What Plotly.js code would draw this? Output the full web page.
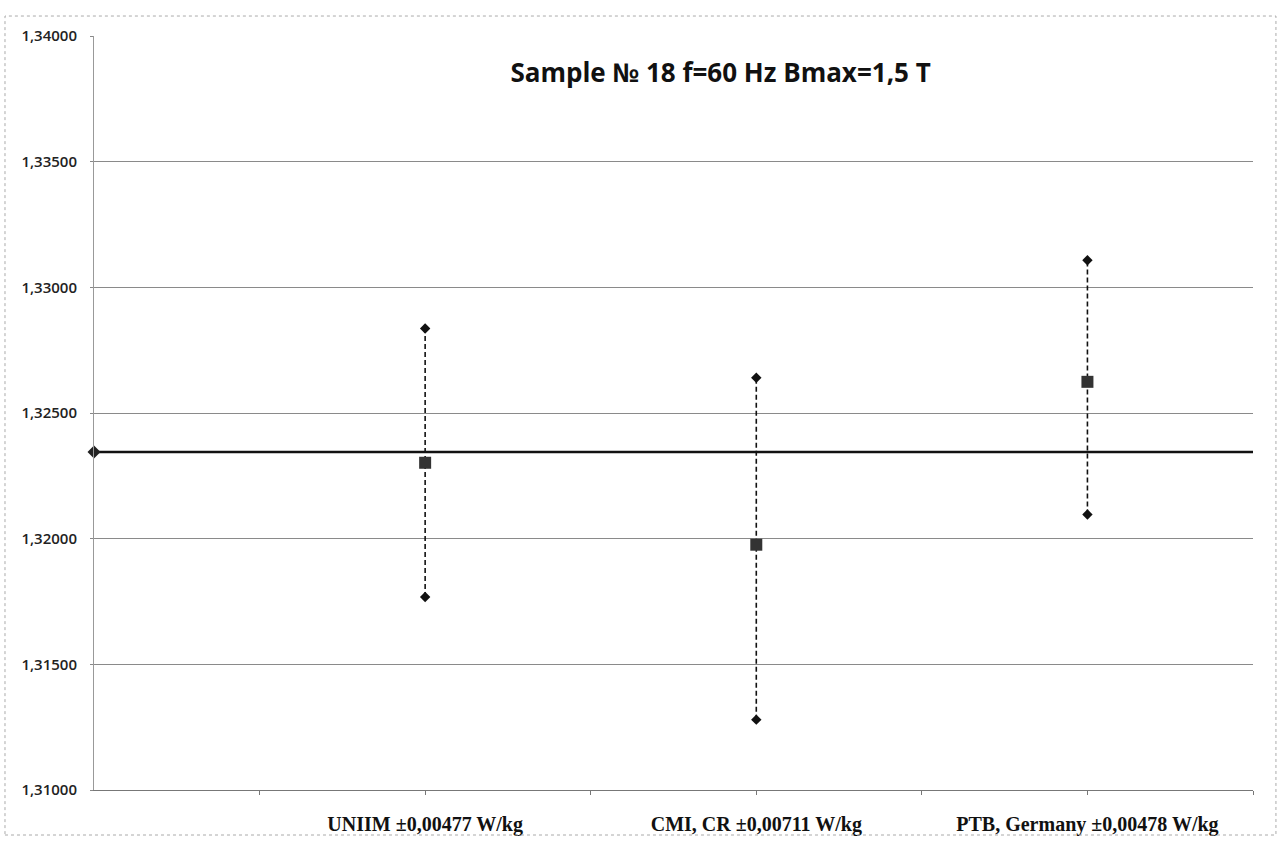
<!DOCTYPE html>
<html>
<head>
<meta charset="utf-8">
<script src="https://cdn.plot.ly/plotly-3.0.1.min.js"></script>
<style>html,body{margin:0;padding:0;background:#fff;}#chart{width:1281px;height:841px;}</style>
</head>
<body>
<div id="chart"></div>
<script>
const labs = ["UNIIM ±0,00477 W/kg", "CMI, CR ±0,00711 W/kg", "PTB, Germany ±0,00478 W/kg"];
const labPos = [1, 2, 3];
const centers = [1.32302, 1.31976, 1.32624];
const uppers = [1.32836, 1.32640, 1.33108];
const lowers = [1.31768, 1.31280, 1.32096];
const refX = [0, 3.5];
const refY = [1.32345, 1.32345];
const yTicks = [1.31, 1.315, 1.32, 1.325, 1.33, 1.335, 1.34];
const yTickText = ["1,31000", "1,31500", "1,32000", "1,32500", "1,33000", "1,33500", "1,34000"];

const traces = [];
traces.push({x: refX, y: refY, mode: 'lines', line: {color: '#111', width: 2.5}, hoverinfo: 'skip'});
traces.push({x: [refX[0]], y: [refY[0]], mode: 'markers', marker: {symbol: 'diamond', size: 10, color: '#222'}, cliponaxis: false});
for (let i = 0; i < labPos.length; i++) {
  traces.push({x: [labPos[i], labPos[i]], y: [lowers[i], uppers[i]], mode: 'lines+markers',
    line: {color: '#111', width: 1.6, dash: '5px,3px'},
    marker: {symbol: 'diamond', size: 8, color: '#111'}});
}
traces.push({x: labPos, y: centers, mode: 'markers', marker: {symbol: 'square', size: 12, color: '#333'}});

const tv = [0.5, 1, 1.5, 2, 2.5, 3, 3.5];
const tt = ["", labs[0], "", labs[1], "", labs[2], ""];

const layout = {
  width: 1281, height: 841,
  margin: {l: 94, r: 28, t: 36, b: 51},
  paper_bgcolor: '#fff', plot_bgcolor: '#fff',
  showlegend: false,
  title: {text: 'Sample № 18 f=60 Hz Bmax=1,5 T', font: {family: '"Open Sans", Lato, sans-serif', size: 26, color: '#111', weight: 'bold'},
    x: 0.5625, xanchor: 'center', y: 0.913, yanchor: 'middle'},
  xaxis: {range: [0, 3.5], tickmode: 'array', tickvals: tv, ticktext: tt, ticks: 'outside', ticklen: 4, tickcolor: '#777',
    ticklabelstandoff: 12,
    showgrid: false, zeroline: false, showline: true, linecolor: '#777', linewidth: 1,
    tickfont: {family: '"Liberation Serif", "DejaVu Serif", serif', size: 20, color: '#111', weight: 'bold'}},
  yaxis: {range: [1.31, 1.34], tickmode: 'array', tickvals: yTicks, ticktext: yTickText,
    showgrid: true, gridcolor: '#8a8a8a', gridwidth: 1, zeroline: false,
    showline: true, linecolor: '#999', linewidth: 1, ticks: 'outside', ticklen: 3, tickcolor: '#888',
    ticklabelstandoff: 10,
    tickfont: {family: '"Open Sans", Lato, sans-serif', size: 15, color: '#222', weight: 600}},
  shapes: [{type: 'rect', xref: 'paper', yref: 'paper', x0: -0.0768, x1: 1.0198, y0: -0.0597, y1: 1.0265,
    line: {color: '#aaa', width: 1, dash: 'dot'}, fillcolor: 'rgba(0,0,0,0)'}]
};
Plotly.newPlot('chart', traces, layout, {displayModeBar: false, staticPlot: true});
</script>
</body>
</html>
